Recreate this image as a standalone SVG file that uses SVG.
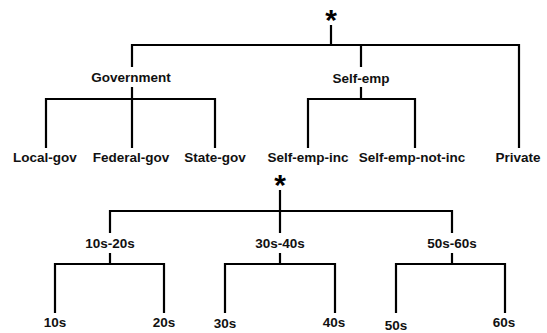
<svg xmlns="http://www.w3.org/2000/svg" width="547" height="333" viewBox="0 0 547 333">
<style>
.l{stroke:#000;stroke-width:2.2;fill:none;stroke-linecap:square}
.t{font-family:"Liberation Sans",Arial,sans-serif;font-weight:bold;font-size:13.5px;fill:#111;text-anchor:middle}
.s{font-family:"Liberation Sans",sans-serif;font-weight:bold;font-size:30px;fill:#000;text-anchor:middle}
</style>
<rect width="547" height="333" fill="#fff"/>
<g id="connectors">
<path class="l" d="M331,26V45M132,45H519M132,45V66M361,45V66M519,45V147"/>
<path class="l" d="M132,88V147M46,99H215M46,99V147M215,99V147"/>
<path class="l" d="M361,88V99M308,99H415M308,99V147M415,99V147"/>
<path class="l" d="M280,191V211M110,211H452M110,211V232M280,211V232M452,211V232"/>
<path class="l" d="M110,254V264M55,264H164M55,264V312M164,264V312"/>
<path class="l" d="M280,254V264M225,264H335M225,264V312M335,264V312"/>
<path class="l" d="M452,254V264M396,264H505M396,264V312M505,264V312"/>
</g>
<g id="root1"><text class="s" x="331" y="30">*</text></g>
<g id="government"><text class="t" x="131" y="82">Government</text></g>
<g id="self-emp"><text class="t" x="361" y="83">Self-emp</text></g>
<g id="private"><text class="t" x="518" y="162">Private</text></g>
<g id="local-gov"><text class="t" x="45" y="162">Local-gov</text></g>
<g id="federal-gov"><text class="t" x="131" y="162">Federal-gov</text></g>
<g id="state-gov"><text class="t" x="215" y="162">State-gov</text></g>
<g id="self-emp-inc"><text class="t" x="308" y="162">Self-emp-inc</text></g>
<g id="self-emp-not-inc"><text class="t" x="412" y="162">Self-emp-not-inc</text></g>
<g id="root2"><text class="s" x="280" y="195">*</text></g>
<g id="age10-20"><text class="t" x="110" y="248">10s-20s</text></g>
<g id="age30-40"><text class="t" x="280" y="248">30s-40s</text></g>
<g id="age50-60"><text class="t" x="452" y="248">50s-60s</text></g>
<g id="age10"><text class="t" x="55" y="327">10s</text></g>
<g id="age20"><text class="t" x="164" y="327">20s</text></g>
<g id="age30"><text class="t" x="225" y="328">30s</text></g>
<g id="age40"><text class="t" x="334" y="327">40s</text></g>
<g id="age50"><text class="t" x="396" y="330">50s</text></g>
<g id="age60"><text class="t" x="504" y="327">60s</text></g>
</svg>
